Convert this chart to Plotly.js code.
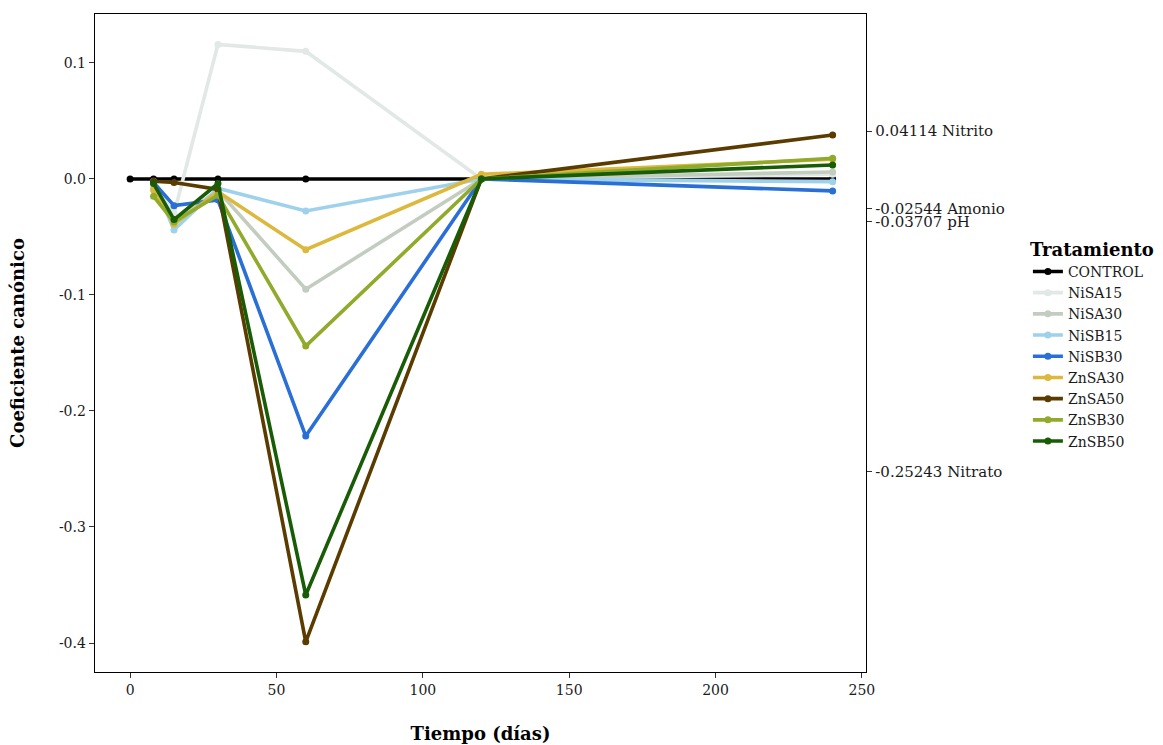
<!DOCTYPE html>
<html>
<head>
<meta charset="utf-8">
<script src="https://cdn.plot.ly/plotly-3.0.1.min.js"></script>
<style>html,body{margin:0;padding:0;background:#fff}#chart{width:1163px;height:745px}</style>
</head>
<body>
<div id="chart"></div>
<script>
const days = [8, 15, 30, 60, 120, 240];
const controlDays = [0, 8, 15, 30, 60, 120, 240];
const treatments = ["CONTROL","NiSA15","NiSA30","NiSB15","NiSB30","ZnSA30","ZnSA50","ZnSB30","ZnSB50"];
const colors = ["#000000","#e1e8e5","#c3cdbf","#9ed1ec","#2a6fd6","#dcb83c","#5b3c00","#90ab2b","#195c06"];
const CONTROL = [0, 0, 0, 0, 0, 0, 0];
const NiSA15 = [-0.004, -0.030, 0.116, 0.110, 0.000, 0.004];
const NiSA30 = [-0.008, -0.036, -0.010, -0.095, 0.000, 0.006];
const NiSB15 = [-0.002, -0.044, -0.008, -0.0276, 0.000, -0.0023];
const NiSB30 = [-0.003, -0.023, -0.018, -0.2216, 0.000, -0.0103];
const ZnSA30 = [-0.0095, -0.039, -0.011, -0.061, 0.004, 0.017];
const ZnSA50 = [-0.002, -0.003, -0.009, -0.399, 0.000, 0.0379];
const ZnSB30 = [-0.015, -0.037, -0.014, -0.144, 0.000, 0.0178];
const ZnSB50 = [-0.004, -0.035, -0.004, -0.3586, 0.000, 0.0121];
const seriesValues = [CONTROL, NiSA15, NiSA30, NiSB15, NiSB30, ZnSA30, ZnSA50, ZnSB30, ZnSB50];
const yTickVals = [0.1, 0, -0.1, -0.2, -0.3, -0.4];
const yTickText = ["0.1", "0.0", "-0.1", "-0.2", "-0.3", "-0.4"];
const xTickVals = [0, 50, 100, 150, 200, 250];
const rightTickVals = [0.04114, -0.02544, -0.03707, -0.25243];
const rightTickText = ["0.04114 Nitrito", "-0.02544 Amonio", "-0.03707 pH", "-0.25243 Nitrato"];

const FONT = "DejaVu Serif, serif";
const traces = treatments.map((name, i) => ({
  type: "scatter",
  mode: "lines+markers",
  name: name,
  x: i === 0 ? controlDays : days,
  y: seriesValues[i],
  line: {color: colors[i], width: 3.6},
  marker: {color: colors[i], size: 7},
  xaxis: "x", yaxis: "y"
}));
traces.push({type:"scatter", x:[0], y:[0], yaxis:"y2", mode:"markers", marker:{opacity:0}, showlegend:false, hoverinfo:"skip"});

const yRange = [-0.425, 0.1422];
const tickFont = {family: FONT, size: 14, color: "#1a1a1a"};
const rightFont = {family: FONT, size: 15, color: "#1a1a1a"};
const titleFont = {family: FONT, size: 18, color: "#000"};
const layout = {
  width: 1163, height: 745,
  margin: {l: 95, r: 297, t: 14, b: 73, autoexpand: false},
  paper_bgcolor: "#fff", plot_bgcolor: "#fff",
  font: {family: FONT, size: 14, color: "#1a1a1a"},
  showlegend: true,
  legend: {
    x: 1.21, y: 0.668, xanchor: "left", yanchor: "top",
    title: {text: "<b>Tratamiento</b>", font: titleFont},
    font: {family: FONT, size: 14, color: "#1a1a1a"},
    itemwidth: 30, tracegroupgap: 0
  },
  xaxis: {
    range: [-12, 251.4], tickvals: xTickVals, showgrid: false, zeroline: false,
    showline: true, linecolor: "#000", linewidth: 1.3, mirror: true,
    ticks: "outside", ticklen: 5, tickcolor: "#333", tickfont: tickFont,
    title: {text: "<b>Tiempo (días)</b>", font: titleFont, standoff: 30}
  },
  yaxis: {
    range: yRange, tickvals: yTickVals, ticktext: yTickText, showgrid: false, zeroline: false,
    showline: true, linecolor: "#000", linewidth: 1.3, mirror: true,
    ticks: "outside", ticklen: 5, tickcolor: "#333", tickfont: tickFont,
    title: {text: "<b>Coeficiente canónico</b>", font: titleFont, standoff: 29}
  },
  yaxis2: {
    overlaying: "y", side: "right", range: yRange, tickvals: rightTickVals, ticktext: rightTickText,
    showgrid: false, zeroline: false, showline: true, linecolor: "#000", linewidth: 1.3,
    ticks: "outside", ticklen: 5, tickcolor: "#333", tickfont: rightFont
  }
};
Plotly.newPlot("chart", traces, layout, {displayModeBar: false, staticPlot: true});
</script>
</body>
</html>
